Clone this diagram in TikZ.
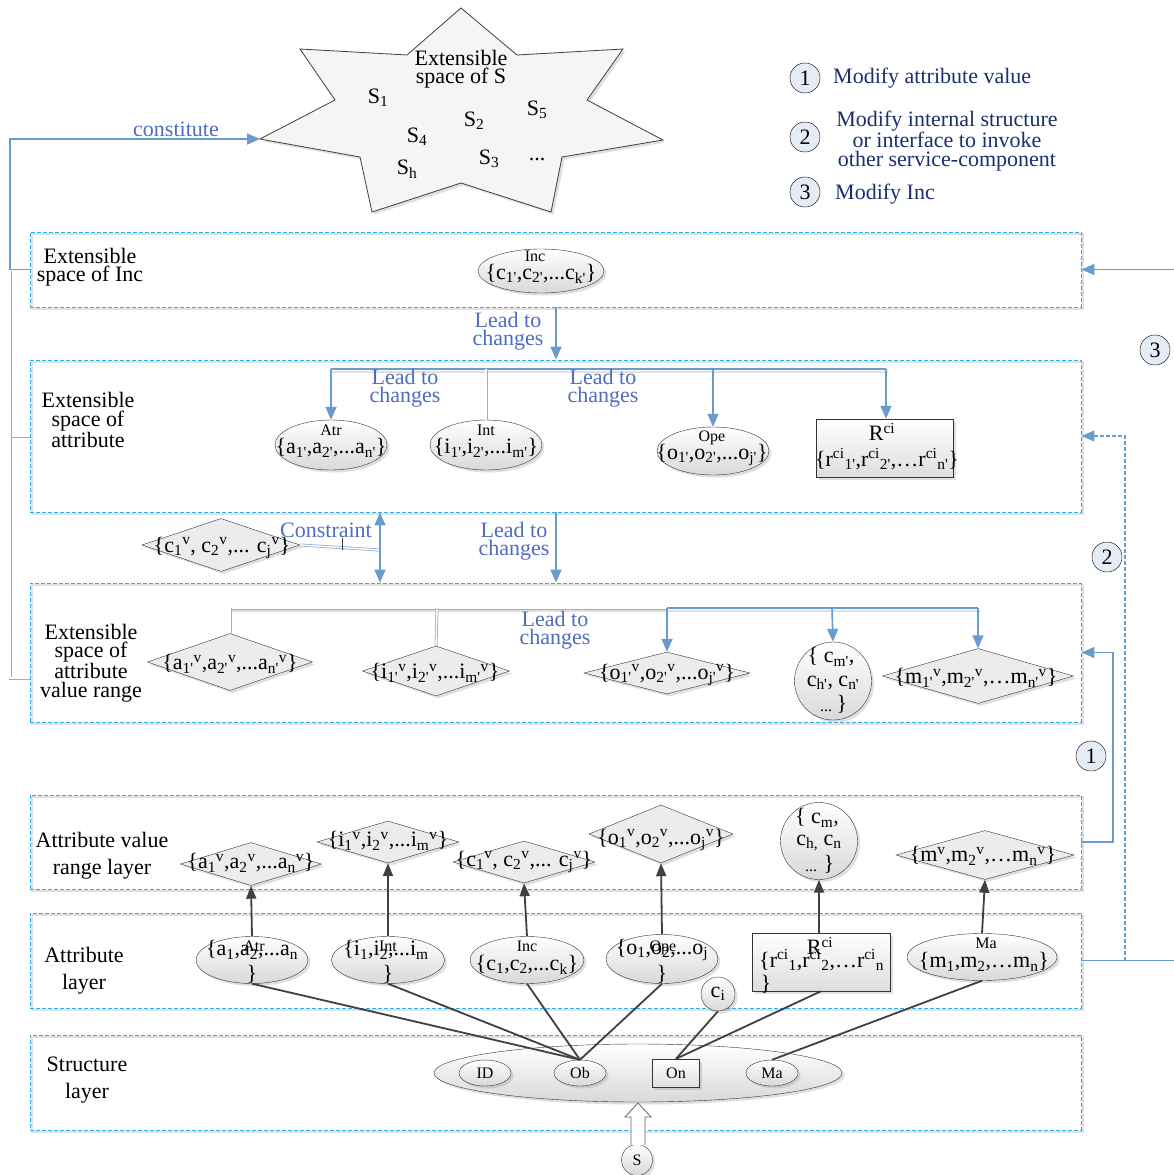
\documentclass[tikz,border=0pt]{standalone}
\usepackage{fontspec}
\setmainfont{Liberation Serif}[Ligatures=TeXOff]
\usetikzlibrary{shapes.geometric,shadows,arrows.meta,calc}
\definecolor{boxc}{HTML}{2AB0E8}
\definecolor{conn}{HTML}{6A9CCB}
\definecolor{lbl}{HTML}{4F6CC0}
\definecolor{navy}{HTML}{1B2F6E}
\definecolor{lgnd}{HTML}{E6ECF6}
\definecolor{lightc}{HTML}{94AED3}
\definecolor{darkc}{HTML}{404040}
\definecolor{shp}{HTML}{ECECEC}
\newcommand\fs{\fontsize{22}{18.5}\selectfont}
\newcommand\fsw{\fontsize{22}{27}\selectfont}
\newcommand\fsm{\fontsize{16}{15}\selectfont}
\newcommand\sbs[1]{\textsubscript{#1}}
\newcommand\sps[1]{\textsuperscript{#1}}
\begin{document}
\begin{tikzpicture}[x=1pt,y=-1pt,
  layer/.style={rectangle, draw=boxc, dash pattern=on 4pt off 2pt, line width=0.9pt, inner sep=0},
  shd/.style={drop shadow={opacity=0.25,shadow xshift=2.5pt,shadow yshift=-2.5pt}},
  ell/.style={ellipse, draw=black!80, top color=white, bottom color=black!15, inner sep=0, shd},
  dia/.style={diamond, draw=black!80, fill=shp, inner sep=0, shd},
  sq/.style={rectangle, draw=black!80, top color=white, bottom color=black!13, inner sep=0, shd},
  legc/.style={circle, draw=black, fill=lgnd, minimum size=30, inner sep=0, font=\fs},
  txt/.style={font=\fs, align=center, inner sep=0},
  wtxt/.style={font=\fsw, align=center, inner sep=0},
  stxt/.style={font=\fsm, inner sep=0},
  lead/.style={font=\fs, align=center, text=lbl, inner sep=0},
  bl/.style={draw=conn, line width=1.6pt},
  ba/.style={bl, -{Triangle[length=13pt,width=11pt]}},
  lightline/.style={draw=lightc, line width=0.8pt, double=white, double distance=1.4pt},
  dk/.style={draw=darkc, line width=1.8pt},
  da/.style={dk, -{Triangle[length=13pt,width=10pt]}}
]
\useasboundingbox (0,0) rectangle (1174,1175);
\fill[white] (0,0) rectangle (1174,1175);

% ---------- star ----------
\path[draw=black!75, fill=black!4, line width=0.8pt, shd]
 (461,8) -- (517,55) -- (623,49) -- (587,100) -- (663,140) -- (562,157) -- (551,212)
 -- (461,183) -- (372,212) -- (360,157) -- (260,139) -- (335,100) -- (300,49) -- (407,55) -- cycle;
\coordinate (starL) at (260,139);
\node[txt] (st) at (461,69) {Extensible\\space of S};
\node[txt] (s1) at (378,98) {S\sbs{1}};
\node[txt] (s2) at (474,121) {S\sbs{2}};
\node[txt] (s5) at (537,110) {S\sbs{5}};
\node[txt] (s4) at (417,137) {S\sbs{4}};
\node[txt] (s3) at (489,159) {S\sbs{3}};
\node[txt] (sd) at (537,160) {...};
\node[txt] (sh) at (407,169) {S\sbs{h}};

% ---------- legend ----------
\node[legc] (g1) at (805,78) {1};
\node[legc] (g2) at (805,137) {2};
\node[legc] (g3) at (805,192) {3};
\node[txt, text=navy, anchor=west] (t1) at (833,78) {Modify attribute value};
\node[txt, text=navy] (t2) at (947,141) {Modify internal structure\\or interface to invoke\\other service-component};
\node[txt, text=navy, anchor=west] (t3) at (835,194) {Modify Inc};

% ---------- layer boxes ----------
\foreach \cy/\h in {269.5/75, 436/152, 652.5/139, 842/94, 960.5/95, 1082.5/95}{
  \draw[black!12, line width=1.2pt] (32,\cy-\h/2+2) rectangle (1083,\cy+\h/2+2);
}
\node[layer, minimum width=1051, minimum height=75] (L1) at (555.5,269.5) {};
\node[layer, minimum width=1051, minimum height=152] (L2) at (555.5,436) {};
\node[layer, minimum width=1051, minimum height=139] (L3) at (555.5,652.5) {};
\node[layer, minimum width=1051, minimum height=94] (L4) at (555.5,842) {};
\node[layer, minimum width=1051, minimum height=95] (L5) at (555.5,960.5) {};
\node[layer, minimum width=1051, minimum height=95] (L6) at (555.5,1082.5) {};

\node[txt] (n1) at (90,267) {Extensible\\space of Inc};
\node[txt] (n2) at (88,420) {Extensible\\space of\\attribute};
\node[txt] (n3) at (91,663) {Extensible\\space of\\attribute\\value range};
\node[wtxt] (n4) at (102,856) {Attribute value\\range layer};
\node[wtxt] (n5) at (84,971) {Attribute\\layer};
\node[wtxt] (n6) at (87,1080) {Structure\\layer};

% ---------- left connectors ----------
\draw[lightline] (10,271) |- (L2.west);
\draw[lightline] (10,271) -- (10,678) -- (30,678);
\draw[ba] (L1.west) -- (10,269.5) -- (10,139) -- (starL);
\node[lead] (cons) at (176,129) {constitute};

% ---------- Inc space ----------
\node[ell, minimum width=126, minimum height=44] (inc1) at (541,271) {};
\node[stxt] at (535,256) {Inc};
\node[txt] at (541,274) {\{c\sbs{1'},c\sbs{2'},...c\sbs{k'}\}};

\draw[ba] (L1.south -| 556,0) -- (L2.north -| 556,0);
\node[lead] (lc1) at (508,331) {Lead to\\changes};

% ---------- attribute space ----------
\node[ell, minimum width=112, minimum height=50] (atr1) at (331,445) {};
\node[stxt] at (331,430) {Atr};
\node[txt] at (331,448) {\{a\sbs{1'},a\sbs{2'},...a\sbs{n'}\}};
\node[ell, minimum width=112, minimum height=50] (int1) at (486,445) {};
\node[stxt] at (486,430) {Int};
\node[txt] at (486,448) {\{i\sbs{1'},i\sbs{2'},...i\sbs{m'}\}};
\node[ell, minimum width=112, minimum height=48] (ope1) at (713,451) {};
\node[stxt] at (712,438) {Ope};
\node[txt] at (712,455) {\{o\sbs{1'},o\sbs{2'},...o\sbs{j'}\}};
\node[sq, minimum width=137, minimum height=58] (r1) at (884.5,448) {};
\node[txt] at (882,432) {R\sps{ci}};
\node[txt] at (887,459) {\{r\sps{ci}\sbs{1'},r\sps{ci}\sbs{2'},\ldots r\sps{ci}\sbs{n'}\}};

\draw[black!12, line width=1.5pt] (332,372) -- (888,372);
\draw[bl] (331,369) -- (886,369);
\draw[lightline] (486,369) -- (int1.north);
\draw[ba] (331,369) -- (atr1.north);
\draw[ba] (713,369) -- (ope1.north);
\draw[ba] (886,369) -- (r1.north -| 886,0);
\node[lead] (lc2) at (405,388) {Lead to\\changes};
\node[lead] (lc3) at (603,388) {Lead to\\changes};

% ---------- constraint ----------
\node[dia, minimum width=158, minimum height=53] (cd) at (221,545) {};
\node[txt] at (222,548) {\{c\sbs{1}\sps{v}, c\sbs{2}\sps{v},... c\sbs{j}\sps{v}\}};
\draw[lightline] (cd.east) -- (380,550);
\draw[darkc, line width=0.8pt] (342,550) -- (342,538);
\draw[bl, {Triangle[length=13pt,width=11pt]}-{Triangle[length=13pt,width=11pt]}] (L2.south -| 380,0) -- (L3.north -| 380,0);
\node[lead] (cn) at (326,530) {Constraint};
\draw[ba] (L2.south -| 556,0) -- (L3.north -| 556,0);
\node[lead] (lc4) at (514,541) {Lead to\\changes};

% ---------- attribute value range space ----------
\node[dia, minimum width=165, minimum height=57] (va) at (230,662) {};
\node[txt] at (230,664) {\{a\sbs{1'}\sps{v},a\sbs{2'}\sps{v},...a\sbs{n'}\sps{v}\}};
\node[dia, minimum width=147, minimum height=50] (vi) at (436,671) {};
\node[txt] at (435,673) {\{i\sbs{1'}\sps{v},i\sbs{2'}\sps{v},...i\sbs{m'}\sps{v}\}};
\node[dia, minimum width=166, minimum height=42] (vo) at (667,673) {};
\node[txt] at (667,675) {\{o\sbs{1'}\sps{v},o\sbs{2'}\sps{v},...o\sbs{j'}\sps{v}\}};
\node[ell, minimum width=77, minimum height=78] (vc) at (833,681) {};
\node[txt] at (831,657) {\{ c\sbs{m'},};
\node[txt] at (833,683) {c\sbs{h'}, c\sbs{n'}};
\node[txt] at (842,704) {\}};
\node[stxt] at (826,711) {...};
\node[dia, minimum width=191, minimum height=55] (vm) at (978,676) {};
\node[txt] at (976,678) {\{m\sbs{1'}\sps{v},m\sbs{2'}\sps{v},\ldots m\sbs{n'}\sps{v}\}};

\draw[black!12, line width=1.5pt] (232,611) -- (980,611);
\draw[lightline] (230,608) -- (667,608);
\draw[lightline] (230,608) -- (va.north);
\draw[lightline] (437,608) -- (vi.north);
\draw[bl] (667,608) -- (978,608);
\draw[ba] (667,608) -- (vo.north);
\draw[ba] (832,608) -- (vc.north);
\draw[ba] (978,608) -- (vm.north);
\node[lead] (lc5) at (555,630) {Lead to\\changes};

% ---------- attribute value range layer ----------
\node[dia, minimum width=141, minimum height=43] (wa) at (251,864) {};
\node[txt] at (251,863) {\{a\sbs{1}\sps{v},a\sbs{2}\sps{v},...a\sbs{n}\sps{v}\}};
\node[dia, minimum width=142, minimum height=42] (wi) at (388,842) {};
\node[txt] at (388,841) {\{i\sbs{1}\sps{v},i\sbs{2}\sps{v},...i\sbs{m}\sps{v}\}};
\node[dia, minimum width=142, minimum height=42] (wc) at (524,862) {};
\node[txt] at (524,862) {\{c\sbs{1}\sps{v}, c\sbs{2}\sps{v},... c\sbs{j}\sps{v}\}};
\node[dia, minimum width=144, minimum height=58] (wo) at (661,834) {};
\node[txt] at (661,840) {\{o\sbs{1}\sps{v},o\sbs{2}\sps{v},...o\sbs{j}\sps{v}\}};
\node[ell, minimum width=77, minimum height=77] (wcc) at (819,841) {};
\node[txt] at (817,818) {\{ c\sbs{m},};
\node[txt] at (819,843) {c\sbs{h,} c\sbs{n}};
\node[txt] at (829,864) {\}};
\node[stxt] at (811,871) {...};
\node[dia, minimum width=178, minimum height=49] (wm) at (985,855) {};
\node[txt] at (983,856) {\{m\sps{v},m\sbs{2}\sps{v},\ldots m\sbs{n}\sps{v}\}};

% ---------- attribute layer ----------
\node[ell, minimum width=112, minimum height=47] (a2) at (252,960) {};
\node[stxt] at (254,946) {Atr};
\node[txt] at (252,950) {\{a\sbs{1},a\sbs{2},...a\sbs{n}};
\node[txt] at (252,974) {\}};
\node[ell, minimum width=113, minimum height=47] (i2) at (388,960) {};
\node[stxt] at (388,946) {Int};
\node[txt] at (386,950) {\{i\sbs{1},i\sbs{2},...i\sbs{m}};
\node[txt] at (388,974) {\}};
\node[ell, minimum width=114, minimum height=47] (c2) at (527,960) {};
\node[stxt] at (527,946) {Inc};
\node[txt] at (527,965) {\{c\sbs{1},c\sbs{2},...c\sbs{k}\}};
\node[ell, minimum width=112, minimum height=49] (o2) at (662,959) {};
\node[stxt] at (663,948) {Ope};
\node[txt] at (662,950) {\{o\sbs{1},o\sbs{2},...o\sbs{j}};
\node[txt] at (662,974) {\}};
\node[sq, minimum width=138, minimum height=58] (r2) at (821,962) {};
\node[txt] at (820,946) {R\sps{ci}};
\node[txt, anchor=west] at (759,960) {\{r\sps{ci}\sbs{1},r\sps{ci}\sbs{2},\ldots r\sps{ci}\sbs{n}};
\node[txt] at (766,984) {\}};
\node[ell, minimum width=150, minimum height=47] (m2) at (982,957) {};
\node[stxt] at (986,943) {Ma};
\node[txt] at (984,962) {\{m\sbs{1},m\sbs{2},\ldots m\sbs{n}\}};
\node[ell, minimum width=34, minimum height=34] (ci) at (718,994) {};
\node[txt] at (718,994) {c\sbs{i}};

\draw[da] (a2.north) -- (wa.south);
\draw[da] (i2.north) -- (wi.south);
\draw[da] (c2.north) -- (wc.south);
\draw[da] (o2.north) -- (wo.south);
\draw[da] (r2.north -| wcc.south) -- (wcc.south);
\draw[da] (m2.north) -- (wm.south);

% ---------- structure layer ----------
\node[ell, minimum width=408, minimum height=58] (big) at (638,1073) {};
\node[ell, minimum width=52, minimum height=26] (id) at (485,1073) {};
\node[stxt] at (485,1073) {ID};
\node[ell, minimum width=52, minimum height=26] (ob) at (580,1073) {};
\node[stxt] at (580,1073) {Ob};
\node[sq, minimum width=47, minimum height=28] (on) at (676,1073) {};
\node[stxt] at (676,1073) {On};
\node[ell, minimum width=52, minimum height=26] (ma) at (772,1073) {};
\node[stxt] at (772,1073) {Ma};

\draw[dk] (ob.north) -- (a2.south);
\draw[dk] (ob.north) -- (i2.south);
\draw[dk] (ob.north) -- (c2.south);
\draw[dk] (ob.north) -- (o2.south);
\draw[dk] (on.north) -- (ci.south);
\draw[dk] (on.north) -- (r2.south);
\draw[dk] (ma.north) -- (m2.south);

\node[ell, minimum width=31, minimum height=31] (s) at (637,1160) {};
\node[stxt] at (637,1160) {S};
\draw[draw=black!60, fill=white, line width=0.8pt] (631,1145) -- (631,1117) -- (625,1117) -- (638,1103) -- (651,1117) -- (645,1117) -- (645,1145);

% ---------- right connectors ----------
\draw[ba] (L4.east) -- (1113,842) -- (1113,652.5) -- (L3.east);
\draw[ba, dash pattern=on 4pt off 2pt] (1125,960.5) -- (1125,436) -- (L2.east);
\draw[bl] (L5.east) -- (1176,960.5);
\draw[ba] (1176,269.5) -- (L1.east);
\node[legc] (c1) at (1091,756) {1};
\node[legc] (c2r) at (1107,557) {2};
\node[legc] (c3r) at (1155,350) {3};
\end{tikzpicture}
\end{document}
